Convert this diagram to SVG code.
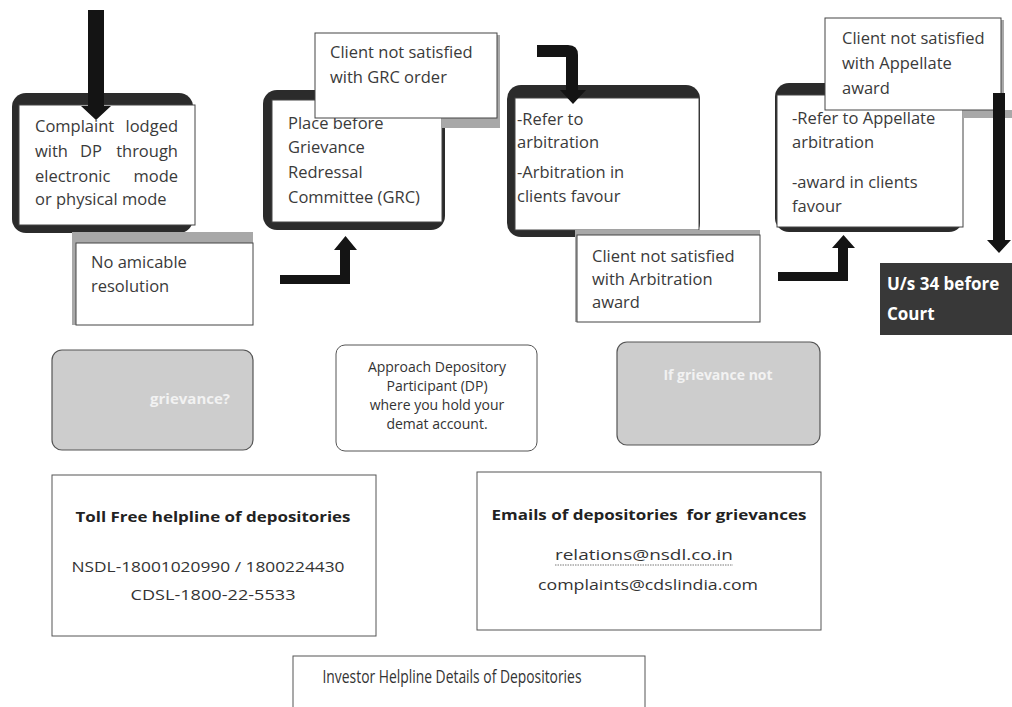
<svg xmlns="http://www.w3.org/2000/svg" width="1012" height="707" viewBox="0 0 1012 707">
<style>
.t{font-family:"Open Sans","Liberation Sans",sans-serif;font-size:16.5px;fill:#3a3a3a}
.s{font-family:"Open Sans","Liberation Sans",sans-serif;font-size:14px;fill:#333}
.b{font-family:"Open Sans","Liberation Sans",sans-serif;font-size:13.5px;font-weight:bold;fill:#222}
.frame{fill:#2b2b2b}
.wb{fill:#fff;stroke:#444;stroke-width:1}
.sh{fill:#a8a8a8}
.ar{fill:#141414}
.gb{fill:#cdcdcd;stroke:#555;stroke-width:1.2}
.pl{fill:#fff;stroke:#555;stroke-width:1}
</style>
<rect width="1012" height="707" fill="#fff"/>

<g id="node-complaint">
<rect class="frame" x="12" y="93" width="181" height="140" rx="14"/>
<rect class="wb" x="19" y="105" width="176" height="120"/>
<text class="t" x="35" y="132">Complaint</text><text class="t" x="178" y="132" text-anchor="end">lodged</text>
<text class="t" x="35" y="157">with</text><text class="t" x="80" y="157">DP</text><text class="t" x="178" y="157" text-anchor="end">through</text>
<text class="t" x="35" y="182">electronic</text><text class="t" x="178" y="182" text-anchor="end">mode</text>
<text class="t" x="35" y="205">or physical mode</text>
</g>

<g id="node-no-amicable">
<rect class="sh" x="72" y="232" width="181" height="93"/>
<rect class="wb" x="76" y="243" width="177" height="82"/>
<text class="t" x="91" y="268">No amicable</text>
<text class="t" x="91" y="292">resolution</text>
</g>

<g id="node-grc">
<rect class="frame" x="263" y="90" width="182" height="140" rx="14"/>
<rect class="wb" x="272" y="100" width="170" height="122"/>
<text class="t" x="288" y="129">Place before</text>
<text class="t" x="288" y="153">Grievance</text>
<text class="t" x="288" y="178">Redressal</text>
<text class="t" x="288" y="203">Committee (GRC)</text>
</g>

<g id="node-grc-unsatisfied">
<path class="sh" d="M497,35 H500 V128 H442 V118 H497 Z"/>
<rect class="wb" x="315" y="33" width="182" height="85"/>
<text class="t" x="330" y="58">Client not satisfied</text>
<text class="t" x="330" y="83">with GRC order</text>
</g>

<g id="node-arbitration">
<rect class="frame" x="507" y="85" width="193" height="152" rx="14"/>
<rect class="wb" x="515" y="98" width="184" height="132"/>
<text class="t" x="517" y="125">-Refer to</text>
<text class="t" x="517" y="148">arbitration</text>
<text class="t" x="517" y="178">-Arbitration in</text>
<text class="t" x="517" y="202">clients favour</text>
</g>

<g id="node-arb-unsatisfied">
<rect class="sh" x="575" y="230" width="185" height="92"/>
<rect class="wb" x="577" y="235" width="183" height="87"/>
<text class="t" x="592" y="262">Client not satisfied</text>
<text class="t" x="592" y="285">with Arbitration</text>
<text class="t" x="592" y="308">award</text>
</g>

<g id="node-appellate">
<rect class="frame" x="775" y="83" width="188" height="149" rx="14"/>
<rect class="wb" x="777" y="95" width="186" height="132"/>
<text class="t" x="792" y="124">-Refer to Appellate</text>
<text class="t" x="792" y="148">arbitration</text>
<text class="t" x="792" y="188">-award in clients</text>
<text class="t" x="792" y="212">favour</text>
</g>

<g id="node-appellate-unsatisfied">
<path class="sh" d="M1001,20 H1004 V110 H1012 V118 H963 V110 H1001 Z"/>
<rect class="wb" x="825" y="18" width="176" height="92"/>
<text class="t" x="842" y="44">Client not satisfied</text>
<text class="t" x="842" y="69">with Appellate</text>
<text class="t" x="842" y="94">award</text>
</g>

<g id="node-court">
<rect x="880" y="263" width="140" height="72" fill="#383838"/>
<text x="887" y="290" font-family="Open Sans, Liberation Sans, sans-serif" font-size="17" font-weight="bold" fill="#fff">U/s 34 before</text>
<text x="887" y="320" font-family="Open Sans, Liberation Sans, sans-serif" font-size="17" font-weight="bold" fill="#fff">Court</text>
</g>

<g id="connectors">
<path class="ar" d="M88,10 H104 V106 H111 L96,120 L81,106 H88 Z"/>
<path class="ar" d="M280,275 H340 V250 H334 L345.5,236 L357,250 H350 V284 H280 Z"/>
<path class="ar" d="M537,45 H568 Q578,45 578,55 V90 H586 L573,104 L560,90 H566 V57 H537 Z"/>
<path class="ar" d="M778,272 H838 V248 H832 L843.5,235 L855,248 H848 V281 H778 Z"/>
<path class="ar" d="M993,93 H1005 V240 H1011 L999,253 L987,240 H993 Z"/>
</g>

<g id="node-grievance">
<rect class="gb" x="52" y="350" width="201" height="100" rx="10"/>
<text x="230" y="404" text-anchor="end" font-family="Open Sans, Liberation Sans, sans-serif" font-size="15" font-weight="bold" fill="#f2f2f2">grievance?</text>
</g>

<g id="node-approach">
<rect class="pl" x="336" y="345" width="201" height="106" rx="9"/>
<text class="s" x="437" y="372" text-anchor="middle">Approach Depository</text>
<text class="s" x="437" y="391" text-anchor="middle">Participant (DP)</text>
<text class="s" x="437" y="410" text-anchor="middle">where you hold your</text>
<text class="s" x="437" y="429" text-anchor="middle">demat account.</text>
</g>

<g id="node-if-grievance">
<rect class="gb" x="617" y="342" width="203" height="103" rx="10"/>
<text x="718" y="380" text-anchor="middle" font-family="Open Sans, Liberation Sans, sans-serif" font-size="14" font-weight="bold" fill="#f2f2f2">If grievance not</text>
</g>

<g id="node-tollfree">
<rect class="pl" x="52" y="475" width="324" height="161"/>
<text class="b" x="213" y="522" text-anchor="middle" textLength="275" lengthAdjust="spacingAndGlyphs">Toll Free helpline of depositories</text>
<text class="s" x="208" y="572" text-anchor="middle" textLength="273" lengthAdjust="spacingAndGlyphs">NSDL-18001020990 / 1800224430</text>
<text class="s" x="213" y="600" text-anchor="middle" textLength="165" lengthAdjust="spacingAndGlyphs">CDSL-1800-22-5533</text>
</g>

<g id="node-emails">
<rect class="pl" x="477" y="472" width="344" height="158"/>
<text class="b" x="649" y="520" text-anchor="middle" textLength="315" lengthAdjust="spacingAndGlyphs" xml:space="preserve">Emails of depositories  for grievances</text>
<text class="s" x="644" y="560" text-anchor="middle" textLength="178" lengthAdjust="spacingAndGlyphs">relations@nsdl.co.in</text>
<line x1="555" y1="565" x2="733" y2="565" stroke="#555" stroke-width="0.8" stroke-dasharray="1.5 1"/>
<text class="s" x="648" y="590" text-anchor="middle" textLength="220" lengthAdjust="spacingAndGlyphs">complaints@cdslindia.com</text>
</g>

<g id="node-investor">
<rect class="pl" x="293" y="656" width="352" height="60"/>
<text x="452" y="683" text-anchor="middle" font-family="Open Sans, Liberation Sans, sans-serif" font-size="18.5" fill="#333" textLength="259" lengthAdjust="spacingAndGlyphs">Investor Helpline Details of Depositories</text>
</g>
</svg>
